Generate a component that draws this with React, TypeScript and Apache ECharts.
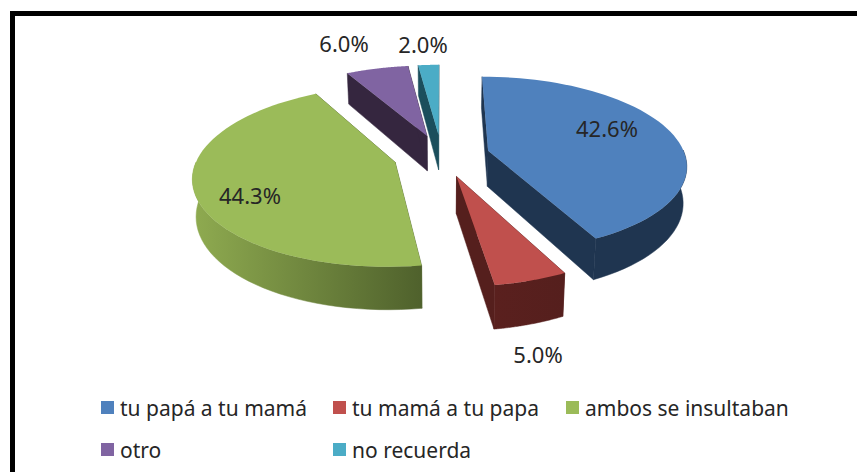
import React, { useEffect, useRef } from "react";
import * as echarts from "echarts";

const categories = ["tu papá a tu mamá", "tu mamá a tu papa", "ambos se insultaban", "otro", "no recuerda"];
const values = [42.6, 5.0, 44.3, 6.0, 2.0];

const topColors = ["#4F81BD", "#C0504D", "#9BBB59", "#8064A2", "#4BACC6"];
const wallColors = ["#1F3550", "#551F1D", "#4F612C", "#35263F", "#1B4E5C"];
const wallLightColors = ["#1F3550", "#5A201E", "#8FAB50", "#35263F", "#1B4E5C"];

// layout of the drawing (pixels)
const labelCentres = [[607, 128], [538, 354], [250, 195], [344, 43], [423, 44]];
const legendSpots = [[101, 397], [333, 397], [566, 397], [101, 439], [333, 439]];
const CX = 441.5, CY = 155.5, RX = 197, RY = 86.5, PERSP = 0.15, EXPLODE = 0.245, DEPTH = 36, START = 0;
const FONT = "'Noto Sans', sans-serif";

const total = values.reduce((a, b) => a + b, 0);

function project(u: number, v: number, low: boolean): number[] {
  const s = 1 / (1 - PERSP * v);
  const k = low ? 0.985 : 1;
  return [CX + RX * u * s * k, CY + RY * v * s + (low ? DEPTH * s : 0)];
}

function makeRender(index: number) {
  return (_params: any, api: any) => {
    const before = values.slice(0, index).reduce((a, b) => a + b, 0);
    const value = api.value(0);
    const a0 = START + (before / total) * 2 * Math.PI;
    const a1 = a0 + (value / total) * 2 * Math.PI;
    const mid = (a0 + a1) / 2;
    const ex = EXPLODE * Math.sin(mid), ey = -EXPLODE * Math.cos(mid);
    const at = (a: number) => [ex + Math.sin(a), ey - Math.cos(a)];
    const steps = 60;
    const arc: number[][] = [];
    for (let i = 0; i <= steps; i++) arc.push(at(a0 + ((a1 - a0) * i) / steps));
    const top = project(ex, ey, false), low = project(ex, ey, true);
    const children: any[] = [];
    const first = arc[0], last = arc[steps];
    const wall = (p: number[]) => ({
      type: "polygon",
      shape: { points: [top, project(p[0], p[1], false), project(p[0], p[1], true), low] },
      style: { fill: wallColors[index], stroke: wallColors[index], lineWidth: 0.5 },
    });
    children.push(wall(first), wall(last));
    const front = [];
    for (let i = 0; i <= steps; i++) {
      const a = a0 + ((a1 - a0) * i) / steps;
      if (Math.cos(a) < 0.02) front.push(arc[i]);
    }
    if (front.length > 1) {
      const pts = front.map((p) => project(p[0], p[1], false)).concat(front.slice().reverse().map((p) => project(p[0], p[1], true)));
      const shade = () =>
        new echarts.graphic.LinearGradient(0, 0, 1, 0, [
          { offset: 0, color: wallLightColors[index] },
          { offset: 1, color: wallColors[index] },
        ]);
      children.push({
        type: "polygon",
        shape: { points: pts },
        style: { fill: shade(), stroke: shade(), lineWidth: 0.5 },
      });
    }
    children.push({
      type: "polygon",
      shape: { points: [top].concat(arc.map((p) => project(p[0], p[1], false))) },
      style: { fill: topColors[index] },
    });
    children.push({
      type: "text",
      z2: 10,
      style: {
        text: value.toFixed(1) + "%",
        x: labelCentres[index][0],
        y: labelCentres[index][1],
        align: "center",
        verticalAlign: "middle",
        fill: "#262626",
        font: `22px ${FONT}`,
      },
    });
    return { type: "group", children };
  };
}

export default function App() {
  const ref = useRef<HTMLDivElement>(null);
  useEffect(() => {
    const chart = echarts.init(ref.current!, undefined, { renderer: "svg" });
    chart.setOption({
      animation: false,
      backgroundColor: "#ffffff",
      legend: categories.map((name, i) => ({
        data: [{ name, icon: "rect" }],
        left: legendSpots[i][0],
        top: legendSpots[i][1],
        itemWidth: 13,
        itemHeight: 13,
        itemGap: 6,
        selectedMode: false,
        padding: 0,
        textStyle: { fontFamily: FONT, fontSize: 21, color: "#262626", padding: [0, 0, 0, 1] },
      })),
      graphic: [
        { type: "rect", shape: { x: 10, y: 11, width: 5, height: 461 }, style: { fill: "#000" } },
        { type: "rect", shape: { x: 10, y: 11, width: 847, height: 5 }, style: { fill: "#000" } },
      ],
      series: categories.map((name, i) => ({
        type: "custom",
        name,
        coordinateSystem: "none",
        itemStyle: { color: topColors[i] },
        data: [[values[i]]],
        renderItem: makeRender(i),
      })),
    });
    return () => chart.dispose();
  }, []);
  return <div ref={ref} style={{ position: "fixed", left: 0, top: 0, width: 857, height: 472 }} />;
}
